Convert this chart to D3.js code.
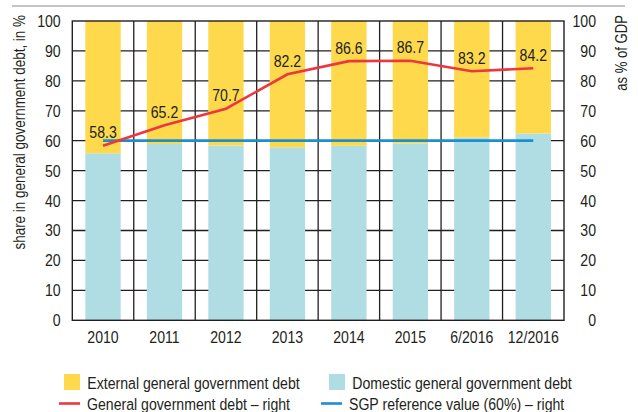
<!DOCTYPE html>
<html><head><meta charset="utf-8">
<script src="https://cdn.jsdelivr.net/npm/d3@7"></script>
<style>
html,body{margin:0;padding:0;background:#fff;}
text{font-family:"Liberation Sans",Arial,sans-serif;fill:#231f20;}
</style></head>
<body><svg id="c" width="638" height="412"></svg>
<script>
const categories = ["2010","2011","2012","2013","2014","2015","6/2016","12/2016"];
const domesticShare = [55.8, 58.9, 58.4, 57.8, 58.3, 59.1, 61.0, 62.4];
const externalShare = domesticShare.map(d => 100 - d);
const govDebtGDP = [58.3, 65.2, 70.7, 82.2, 86.6, 86.7, 83.2, 84.2];
const sgpReference = [60, 60, 60, 60, 60, 60, 60, 60];
const yTicks = [0,10,20,30,40,50,60,70,80,90,100];

const C = {yellow:"#fdd94b", blue:"#afdde3", red:"#ec3640", line:"#1b8fd0", grid:"#231f20"};
const SX = 0.83, FS = 17;
const svg = d3.select("#c");
const L = 72.3, R = 564, T = 21, B = 320.3;
const x = d3.scaleBand().domain(categories).range([L, R]).padding(0);
const y = d3.scaleLinear().domain([0,100]).range([B, T]);
const yR = d3.scaleLinear().domain([0,100]).range([B, T]);
const bw = x.bandwidth()*0.575;
const cx = c => x(c) + x.bandwidth()/2;

// place condensed text
function ctext(g, tx, ty, str, opts={}) {
  const t = g.append("text")
    .attr("transform", `translate(${tx},${ty})` + (opts.rot ? " rotate(-90)" : "") + ` scale(${SX},1)`)
    .attr("font-size", opts.fs || FS)
    .attr("text-anchor", opts.anchor || "start")
    .text(str);
  if (opts.dy) t.attr("dy", opts.dy);
  return t;
}

// top rule
svg.append("line").attr("x1",12).attr("x2",625).attr("y1",6).attr("y2",6)
  .attr("stroke","#8a8a8a").attr("stroke-width",1.2);

// horizontal grid
svg.append("g").selectAll("line").data(yTicks.filter(t=>t>0&&t<100)).join("line")
  .attr("x1",L).attr("x2",R).attr("y1",d=>y(d)).attr("y2",d=>y(d))
  .attr("stroke",C.grid).attr("stroke-width",1.3);
// vertical grid
svg.append("g").selectAll("line").data(categories.slice(1)).join("line")
  .attr("x1",d=>x(d)).attr("x2",d=>x(d)).attr("y1",T).attr("y2",B)
  .attr("stroke",C.grid).attr("stroke-width",1.3);

// stacked bars
const rows = categories.map((c,i)=>({c, domestic:domesticShare[i], external:externalShare[i]}));
const stack = d3.stack().keys(["domestic","external"])(rows);
const colors = {domestic:C.blue, external:C.yellow};
svg.append("g").selectAll("g").data(stack).join("g").attr("fill",s=>colors[s.key])
  .selectAll("rect").data(s=>s).join("rect")
  .attr("x",d=>cx(d.data.c)-bw/2).attr("width",bw)
  .attr("y",d=>y(d[1])).attr("height",d=>y(d[0])-y(d[1]));

// frame
svg.append("rect").attr("x",L).attr("y",T).attr("width",R-L).attr("height",B-T)
  .attr("fill","none").attr("stroke",C.grid).attr("stroke-width",1.4);

// SGP line
svg.append("path").datum(sgpReference)
  .attr("d", d3.line().x((d,i)=>cx(categories[i])).y(d=>yR(d)))
  .attr("fill","none").attr("stroke",C.line).attr("stroke-width",2.8);
// debt line
svg.append("path").datum(govDebtGDP)
  .attr("d", d3.line().x((d,i)=>cx(categories[i])).y(d=>yR(d)))
  .attr("fill","none").attr("stroke",C.red).attr("stroke-width",2.6);
// value labels
const vl = svg.append("g");
govDebtGDP.forEach((v,i)=>ctext(vl, cx(categories[i]), yR(v)-7.5, v.toFixed(1), {anchor:"middle"}));

// axes (generated by d3, text condensed afterwards)
const ax = svg.append("g").attr("transform",`translate(${L},0)`)
  .call(d3.axisLeft(y).tickValues(yTicks).tickSize(0).tickPadding(0));
ax.select(".domain").remove();
ax.selectAll("text").attr("x",null).attr("font-size",FS)
  .attr("transform",`translate(-11.6,0) scale(${SX},1)`);
const ar = svg.append("g").attr("transform",`translate(${R},0)`)
  .call(d3.axisRight(yR).tickValues(yTicks).tickSize(0).tickPadding(0));
ar.select(".domain").remove();
ar.selectAll("text").attr("x",null).attr("font-size",FS).attr("text-anchor","end")
  .attr("transform",`translate(32,0) scale(${SX},1)`);
svg.selectAll("g[font-family]").attr("font-family",null);
svg.selectAll("g[font-size]").attr("font-size",null);
svg.selectAll(".tick text").attr("fill","#231f20");

// x labels
const xl = svg.append("g");
categories.forEach(c=>ctext(xl, cx(c), 343, c, {anchor:"middle"}));

// axis titles
ctext(svg, 24.5, 15, "share in general government debt, in %", {rot:true, anchor:"end", fs:16.2});
ctext(svg, 626.5, 15, "as % of GDP", {rot:true, anchor:"end", fs:15.8});

// legend
const legend = [
  {type:"rect", color:C.yellow, label:"External general government debt", x:64, y:374, tx:87.3, ty:388.5},
  {type:"rect", color:C.blue, label:"Domestic general government debt", x:329, y:374, tx:352.3, ty:388.5},
  {type:"line", color:C.red, label:"General government debt – right", x:59, y:403.5, tx:87, ty:410},
  {type:"line", color:C.line, label:"SGP reference value (60%) – right", x:321, y:403.5, tx:349, ty:410}
];
const lg = svg.append("g");
legend.forEach(l=>{
  if(l.type==="rect") lg.append("rect").attr("x",l.x).attr("y",l.y).attr("width",16).attr("height",16).attr("fill",l.color);
  else lg.append("line").attr("x1",l.x).attr("x2",l.x+21).attr("y1",l.y).attr("y2",l.y).attr("stroke",l.color).attr("stroke-width",2.6);
  ctext(lg, l.tx, l.ty, l.label);
});
</script></body></html>
